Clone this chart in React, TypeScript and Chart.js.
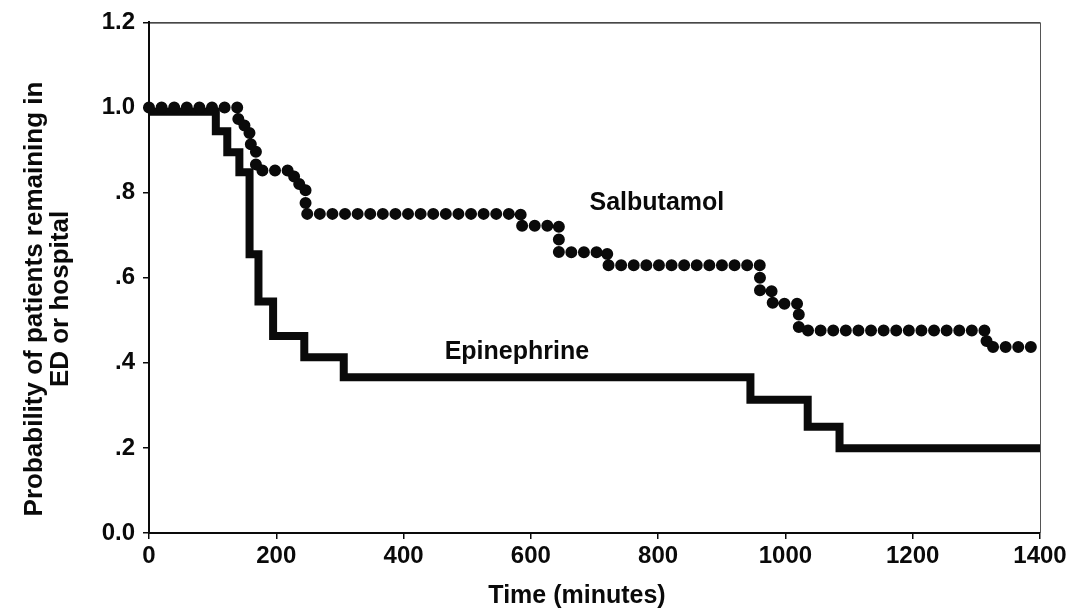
import { useEffect, useRef } from "react";
import { Chart, registerables } from "chart.js";

Chart.register(...registerables);

// Kaplan–Meier style step data: each point is (time, probability from that time on)
const epinephrineTimes = [0, 105, 123, 142, 158, 172, 195, 244, 306, 945, 1035, 1085, 1400];
const epinephrineProb = [0.99, 0.944, 0.895, 0.848, 0.655, 0.544, 0.463, 0.413, 0.366, 0.313, 0.25, 0.199, 0.199];

const salbutamolTimes = [0, 139, 150, 160, 168, 228, 246, 584, 644, 720, 960, 980, 1021, 1316, 1400];
const salbutamolProb = [1.0, 0.973, 0.94, 0.912, 0.852, 0.82, 0.75, 0.722, 0.66, 0.629, 0.568, 0.539, 0.476, 0.437, 0.437];

const xTickLabels = ["0", "200", "400", "600", "800", "1000", "1200", "1400"];
const yTickLabels = ["0.0", ".2", ".4", ".6", ".8", "1.0", "1.2"];

const seriesNames = ["Salbutamol", "Epinephrine"];
// anchors for the in-plot series names, in data units (time, probability)
const labelAnchors = [
  { t: 798, p: 0.758 },
  { t: 578, p: 0.41 },
];

const xTitle = "Time (minutes)";
const yTitleLines = ["Probability of patients remaining in", "ED or hospital"];

const FONT = "'Liberation Sans', Arial, Helvetica, sans-serif";
const INK = "#0a0a0a";

const decorations = {
  id: "decorations",
  afterDatasetsDraw(chart: any) {
    const { ctx, chartArea } = chart;
    const xs = chart.scales.x;
    const ys = chart.scales.y;
    ctx.save();
    // top and right frame lines
    ctx.strokeStyle = INK;
    ctx.lineWidth = 1.2;
    ctx.beginPath();
    ctx.moveTo(chartArea.left, chartArea.top + 0.5);
    ctx.lineTo(chartArea.right, chartArea.top + 0.5);
    ctx.stroke();
    ctx.strokeStyle = "#555";
    ctx.lineWidth = 1;
    ctx.beginPath();
    ctx.moveTo(chartArea.right + 0.5, chartArea.top);
    ctx.lineTo(chartArea.right + 0.5, chartArea.bottom);
    ctx.stroke();

    // series names
    ctx.fillStyle = INK;
    ctx.font = `bold 25px ${FONT}`;
    ctx.textAlign = "center";
    ctx.textBaseline = "alphabetic";
    seriesNames.forEach((name, i) => {
      const a = labelAnchors[i];
      ctx.fillText(name, xs.getPixelForValue(a.t), ys.getPixelForValue(a.p));
    });

    // x axis title
    ctx.fillText(xTitle, 577, 603);

    // y axis title (two rotated lines)
    ctx.font = `bold 26px ${FONT}`;
    ctx.translate(0, 299);
    ctx.rotate(-Math.PI / 2);
    ctx.fillText(yTitleLines[0], 0, 42);
    ctx.fillText(yTitleLines[1], 0, 68);
    ctx.restore();
  },
};

export default function App() {
  const canvasRef = useRef<HTMLCanvasElement | null>(null);

  useEffect(() => {
    document.body.style.margin = "0";
    const canvas = canvasRef.current;
    if (!canvas) return;

    const chart = new Chart(canvas, {
      type: "line",
      data: {
        datasets: [
          {
            label: seriesNames[0],
            data: salbutamolTimes.map((t, i) => ({ x: t, y: salbutamolProb[i] })),
            stepped: true,
            borderColor: INK,
            borderWidth: 12,
            borderDash: [0, 12.6],
            borderCapStyle: "round",
            pointRadius: 0,
            fill: false,
            clip: false,
          },
          {
            label: seriesNames[1],
            data: epinephrineTimes.map((t, i) => ({ x: t, y: epinephrineProb[i] })),
            stepped: true,
            borderColor: INK,
            borderWidth: 8,
            borderCapStyle: "butt",
            borderJoinStyle: "miter",
            pointRadius: 0,
            fill: false,
            clip: false,
          },
        ],
      },
      options: {
        animation: false,
        responsive: false,
        devicePixelRatio: 1,
        layout: { padding: { left: 0, top: 20, right: 38, bottom: 0 } },
        plugins: {
          legend: { display: false },
          tooltip: { enabled: false },
        },
        scales: {
          x: {
            type: "linear",
            min: 0,
            max: 1400,
            afterFit: (scale: any) => {
              scale.height = 76;
            },
            ticks: {
              stepSize: 200,
              color: INK,
              padding: 3,
              maxRotation: 0,
              font: { family: FONT, size: 24, weight: "bold" },
              callback: (_v: any, i: number) => xTickLabels[i],
            },
            grid: {
              display: true,
              drawOnChartArea: false,
              drawTicks: true,
              tickLength: 6,
              color: INK,
              lineWidth: 1.5,
            },
            border: { display: true, color: INK, width: 2 },
          },
          y: {
            type: "linear",
            min: 0,
            max: 1.2,
            afterFit: (scale: any) => {
              scale.width = 149;
            },
            ticks: {
              stepSize: 0.2,
              color: INK,
              padding: 8,
              font: { family: FONT, size: 24, weight: "bold" },
              callback: (_v: any, i: number) => yTickLabels[i],
            },
            grid: {
              display: true,
              drawOnChartArea: false,
              drawTicks: true,
              tickLength: 6,
              color: INK,
              lineWidth: 1.5,
            },
            border: { display: true, color: INK, width: 2 },
          },
        },
      },
      plugins: [decorations],
    });

    return () => chart.destroy();
  }, []);

  return (
    <canvas
      ref={canvasRef}
      width={1078}
      height={609}
      style={{ display: "block", width: 1078, height: 609 }}
    />
  );
}
